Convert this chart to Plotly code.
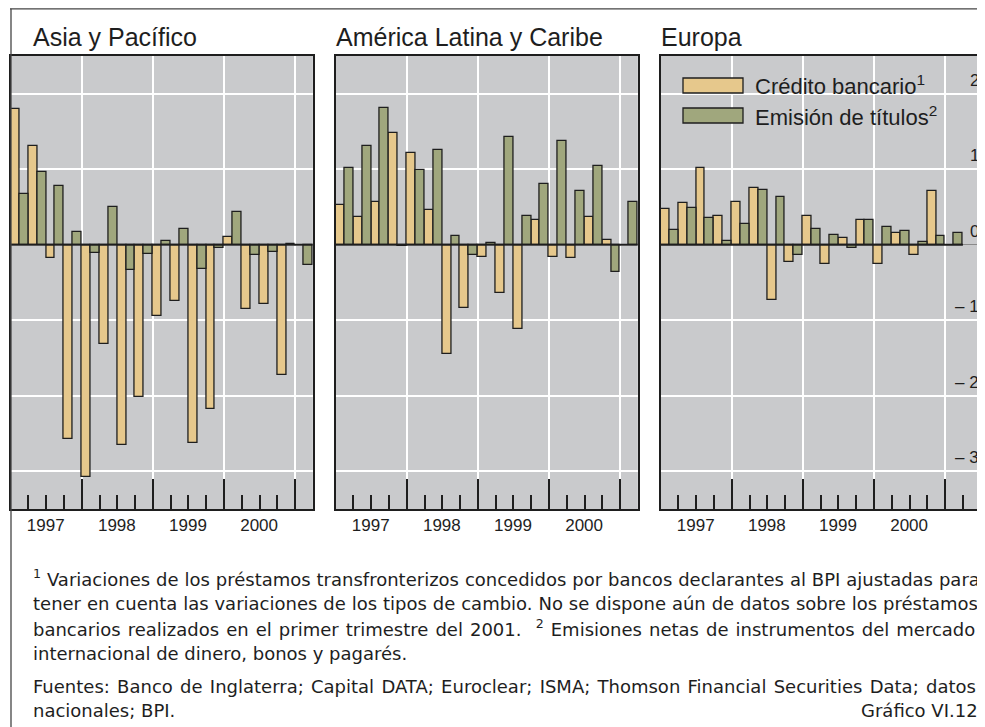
import plotly.graph_objects as go

# ---------------- data ----------------
quarters = ["1997T1", "1997T2", "1997T3", "1997T4",
            "1998T1", "1998T2", "1998T3", "1998T4",
            "1999T1", "1999T2", "1999T3", "1999T4",
            "2000T1", "2000T2", "2000T3", "2000T4",
            "2001T1"]
year_labels = ["1997", "1998", "1999", "2000"]

asia_credito = [18.0, 13.1, -1.8, -25.7, -30.8, -13.1, -26.5, -20.1,
                -9.4, -7.5, -26.2, -21.8, 1.0, -8.5, -7.9, -17.2, None]
asia_titulos = [6.7, 9.6, 7.8, 1.7, -1.1, 5.0, -3.3, -1.2,
                0.5, 2.1, -3.2, -0.4, 4.3, -1.4, -1.0, 0.1, -2.7]

latam_credito = [5.3, 3.7, 5.6, 14.8, 12.2, 4.6, -14.5, -8.4,
                 -1.6, -6.4, -11.2, 3.3, -1.6, -1.7, 3.7, 0.6, None]
latam_titulos = [10.1, 13.1, 18.1, -0.2, 9.9, 12.6, 1.1, -1.3,
                 0.2, 14.3, 3.8, 8.1, 13.7, 7.1, 10.4, -3.6, 5.6]

europa_credito = [4.7, 5.5, 10.2, 3.75, 5.65, 7.55, -7.3, -2.3,
                  3.8, -2.6, 0.9, 3.3, -2.5, 1.5, -1.3, 7.15, None]
europa_titulos = [1.9, 4.9, 3.6, 0.5, 2.7, 7.3, 6.3, -1.4,
                  2.1, 1.3, -0.4, 3.3, 2.4, 1.8, 0.35, 1.15, 1.6]

panel_titles = ["Asia y Pacífico", "América Latina y Caribe", "Europa"]
series_names = ["Crédito bancario<sup>1</sup>", "Emisión de títulos<sup>2</sup>"]
y_tick_vals = [20, 10, 0, -10, -20, -30]
y_tick_text = ["20", "10", "0", "– 10", "– 20", "– 30"]

footnotes = [
    "<sup>1</sup> Variaciones de los préstamos transfronterizos concedidos por bancos declarantes al BPI ajustadas para",
    "tener en cuenta las variaciones de los tipos de cambio. No se dispone aún de datos sobre los préstamos",
    "bancarios realizados en el primer trimestre del 2001.  <sup>2</sup> Emisiones netas de instrumentos del mercado",
    "internacional de dinero, bonos y pagarés.",
    "Fuentes: Banco de Inglaterra; Capital DATA; Euroclear; ISMA; Thomson Financial Securities Data; datos",
    "nacionales; BPI.",
]
chart_id = "Gráfico VI.12"

# ---------------- styling ----------------
# the page body adds an 8 px margin: lay out in page pixels, convert to figure pixels
OFF = 8
PW, PH = 985, 727
W, H = PW - OFF, PH - OFF
BG = "#C9CACC"
C_CRED = "#E6C88C"
C_TIT = "#A0A77D"
DARK = "#1e1e1e"
FONT = "Liberation Sans, Arial, sans-serif"
NOTE_FONT = "DejaVu Sans, Verdana, sans-serif"

def px(x):
    return (x - OFF) / W

def py(y):
    return 1 - (y - OFF) / H

Q = 17.78  # px per quarter
lefts = [10.6, 335.6, 660.6]
top_px, bot_px = 56, 509
n = len(quarters)
xs = list(range(n))

fig = go.Figure()
data = [(asia_credito, asia_titulos), (latam_credito, latam_titulos), (europa_credito, europa_titulos)]

for i, (cred, tit) in enumerate(data):
    xa = "x" if i == 0 else f"x{i+1}"
    ya = "y" if i == 0 else f"y{i+1}"
    for vals, col, nm in [(cred, C_CRED, series_names[0]), (tit, C_TIT, series_names[1])]:
        fig.add_trace(go.Bar(x=xs, y=vals, name=nm, marker=dict(color=col, line=dict(color=DARK, width=1.3)),
                             xaxis=xa, yaxis=ya, showlegend=False, offsetgroup=nm))

minor_vals = [k + 0.5 for k in range(0, 18) if (k + 1) % 4 != 0]

for i in range(3):
    left = lefts[i]
    if i < 2:
        right = left + n * Q
        xr = [-0.5, n - 0.5]
    else:
        right = PW
        xr = [-0.5, -0.5 + (PW - left) / Q]
    xkey = "xaxis" if i == 0 else f"xaxis{i+1}"
    ykey = "yaxis" if i == 0 else f"yaxis{i+1}"
    yname = "y" if i == 0 else f"y{i+1}"
    xname = "x" if i == 0 else f"x{i+1}"
    fig.layout[xkey] = dict(
        domain=[px(left), min(1, px(right))], anchor=yname, range=xr,
        tickmode="array", tickvals=[3.5, 7.5, 11.5, 15.5], ticktext=year_labels,
        ticks="inside", ticklen=30, tickwidth=1.6, tickcolor=DARK,
        ticklabelshift=-36, ticklabelstandoff=0,
        tickfont=dict(family=FONT, size=17, color=DARK),
        showgrid=True, gridcolor="white", gridwidth=1.5,
        minor=dict(tickmode="array", tickvals=minor_vals, ticks="inside", ticklen=14,
                   tickwidth=1.6, tickcolor=DARK, showgrid=False),
        showline=True, linecolor=DARK, linewidth=1.6, mirror=True, zeroline=False,
        fixedrange=True,
    )
    fig.layout[ykey] = dict(
        domain=[py(bot_px), py(top_px)], anchor=xname, range=[-35, 25],
        tickmode="array", tickvals=[-30, -20, -10, 0, 10, 20], showticklabels=False, ticks="",
        showgrid=True, gridcolor="white", gridwidth=1.5,
        zeroline=(i == 2), zerolinecolor="#8a8a8a", zerolinewidth=1,
        showline=True, linecolor=DARK, linewidth=1.6, mirror=(i < 2), fixedrange=True,
    )
    # dark zero line over the data span
    fig.add_shape(type="line", xref=xname, yref=yname, x0=-0.5, x1=n - 0.5, y0=0, y1=0,
                  line=dict(color=DARK, width=2), layer="above")
    # panel title
    tx = 31 if i == 0 else left - 2
    fig.add_annotation(text=panel_titles[i], xref="paper", yref="paper", x=px(tx), y=py(37),
                       xanchor="left", yanchor="middle", showarrow=False,
                       font=dict(family=FONT, size=25, color=DARK))

# y labels of panel 3 (right side, above gridlines)
for v, t in zip(y_tick_vals, y_tick_text):
    fig.add_annotation(text=t, xref="paper", yref="y3", x=px(968 if v >= 0 else 953), y=v,
                       xanchor="left", yanchor="middle", yshift=13.5, showarrow=False,
                       font=dict(family=FONT, size=17, color=DARK))

# legend (panel 3)
for k, (nm, col) in enumerate(zip(series_names, [C_CRED, C_TIT])):
    yc = 85.5 + 30 * k
    fig.add_shape(type="rect", xref="paper", yref="paper", x0=px(683), x1=px(743),
                  y0=py(yc - 7.5), y1=py(yc + 7.5), fillcolor=col, line=dict(color=DARK, width=1.3))
    fig.add_annotation(text=nm, xref="paper", yref="paper", x=px(753), y=py(yc),
                       xanchor="left", yanchor="middle", showarrow=False,
                       font=dict(family=FONT, size=22, color=DARK))

# outer frame
fig.add_shape(type="line", xref="paper", yref="paper", x0=px(10), x1=1, y0=py(8.8), y1=py(8.8),
              line=dict(color="#444", width=1.3))
fig.add_shape(type="line", xref="paper", yref="paper", x0=px(11), x1=px(11), y0=py(8.8), y1=0,
              line=dict(color="#444", width=1.3))

# footnotes (justified lines get extra word spacing)
line_y = [578, 603, 628, 653, 686, 710]
word_sp = [0.2, 0.2, 1.35, 0, 1.55, 0]
for t, yy, ws in zip(footnotes, line_y, word_sp):
    txt = f'<span style="word-spacing:{ws}px">{t}</span>' if ws else t
    fig.add_annotation(text=txt, xref="paper", yref="paper", x=px(31), y=py(yy),
                       xanchor="left", yanchor="middle", showarrow=False,
                       font=dict(family=NOTE_FONT, size=18, color=DARK))
fig.add_annotation(text=chart_id, xref="paper", yref="paper", x=px(980), y=py(710),
                   xanchor="right", yanchor="middle", showarrow=False,
                   font=dict(family=NOTE_FONT, size=18, color=DARK))

fig.update_layout(
    width=W, height=H, margin=dict(l=0, r=0, t=0, b=0),
    paper_bgcolor="white", plot_bgcolor=BG,
    barmode="group", bargap=0, bargroupgap=0,
    showlegend=False,
)

fig.write_html("out.html", config={"displayModeBar": False})
